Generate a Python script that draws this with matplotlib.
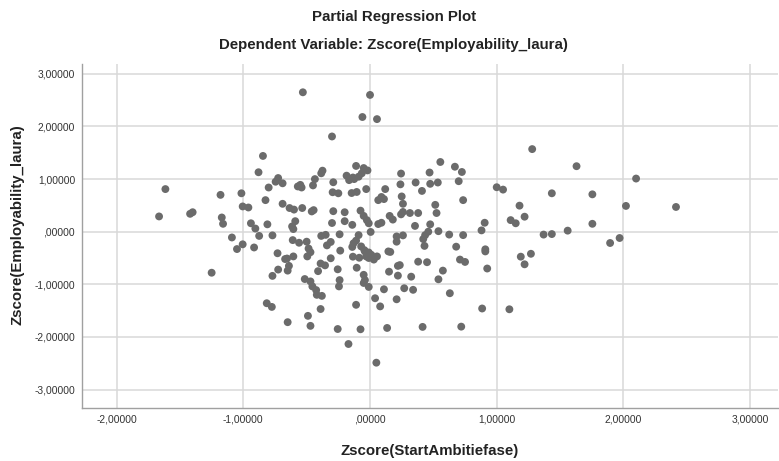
import matplotlib
matplotlib.use("Agg")
import matplotlib.pyplot as plt
from matplotlib.ticker import FuncFormatter

title = "Partial Regression Plot"
subtitle = "Dependent Variable: Zscore(Employability_laura)"
x_label = "Zscore(StartAmbitiefase)"
y_label = "Zscore(Employability_laura)"
x_ticks = [-2, -1, 0, 1, 2, 3]
y_ticks = [-3, -2, -1, 0, 1, 2, 3]

x_vals = [
    -1.665, -1.615, -1.42, -1.40, -1.25, -1.18, -1.17, -1.16, -1.09, -1.05,
    -1.015, -1.005, -0.96, -1.005, -0.94, -0.905, -0.875, -0.915, -0.845, -0.88,
    -0.80, -0.825, -0.81, -0.815, -0.775, -0.77, -0.725, -0.745, -0.69, -0.69,
    -0.73, -0.725, -0.77, -0.67, -0.655, -0.635, -0.60, -0.615, -0.605, -0.59,
    -0.605, -0.64, -0.65, -0.65, -0.61, -0.57, -0.55, -0.54, -0.56,
    -0.53, -0.535, -0.50, -0.485, -0.47, -0.495, -0.515, -0.47, -0.455, -0.425,
    -0.42, -0.38, -0.49, -0.47, -0.39, -0.435, -0.45, -0.445, -0.46, -0.375,
    -0.385, -0.385, -0.35, -0.34, -0.31, -0.39, -0.355, -0.41, -0.31,
    -0.30, -0.29, -0.295, -0.25, -0.29, -0.20, -0.30, -0.20, -0.14, -0.24,
    -0.235, -0.255, -0.24, -0.245, -0.255, -0.17, -0.11, -0.11, -0.185, -0.165,
    -0.125, -0.09, -0.135, -0.145, -0.105, -0.13, -0.11, -0.09, -0.14,
    -0.135, -0.085, -0.105, -0.06, -0.075, -0.07, -0.045,
    -0.05, -0.02, -0.065, -0.03, 0.00, 0.055, -0.05, -0.025, -0.01, 0.005,
    -0.04, -0.01, 0.01, -0.03, 0.03, 0.055, -0.01,
    -0.05, -0.04, -0.05, -0.01, -0.075, 0.05, 0.04, 0.08, 0.065, 0.09, 0.11,
    0.12, 0.065, 0.09, 0.11, 0.145, 0.16, 0.15, 0.135,
    0.155, 0.18, 0.21, 0.26, 0.21, 0.245, 0.24, 0.25, 0.26, 0.245,
    0.26, 0.315, 0.38, 0.355, 0.235, 0.22, 0.22, 0.21, 0.27, 0.34,
    0.325, 0.36, 0.38,
    0.41, 0.47, 0.475, 0.535, 0.555, 0.515, 0.525, 0.475, 0.46, 0.435,
    0.42, 0.54, 0.43, 0.45, 0.415, 0.575, 0.54, 0.625, 0.63, 0.67, 0.68, 0.70,
    0.725, 0.735, 0.735, 0.71, 0.75, 0.72, 0.88, 0.905, 0.91, 0.91,
    0.925, 0.885, 1.00, 1.05, 1.10, 1.11, 1.15, 1.18,
    1.22, 1.19, 1.22, 1.27, 1.28, 1.37, 1.435, 1.435, 1.56, 1.63,
    1.755, 1.755, 1.895, 1.97, 2.02, 2.10, 2.415,
]

y_vals = [
    0.29, 0.81, 0.34, 0.37, -0.78, 0.70, 0.27, 0.15, -0.11, -0.33,
    0.73, 0.48, 0.46, -0.24, 0.16, 0.06, -0.08, -0.30, 1.44, 1.13,
    0.84, 0.60, 0.14, -1.36, -1.43, -0.07, 1.02, 0.95, 0.92, 0.53,
    -0.41, -0.72, -0.84, -0.52, -0.51, 0.45, 0.42, 0.10, 0.05, 0.20,
    -0.47, -0.65, -0.74, -1.72, -0.16, 0.86, 0.89, 0.84, -0.21,
    2.65, 0.45, -0.19, -0.32, -0.39, -0.47, -0.90, -0.945, -1.04, -1.11,
    -1.20, -1.22, -1.60, -1.79, -1.47, 1.00, 0.88, 0.41, 0.385, 1.16,
    1.11, -0.08, -0.06, -0.26, -0.195, -0.605, -0.64, -0.75, -0.505,
    1.81, 0.94, 0.75, 0.73, 0.39, 0.37, 0.165, 0.20, 0.13, -0.05,
    -0.36, -0.715, -0.92, -1.04, -1.85, -2.135, -1.39, 1.25, 1.065, 0.98,
    1.00, 1.045, 1.03, 0.735, 0.755, -0.22, -0.17, -0.065, -0.29,
    -0.475, -0.495, -0.685, 2.18, 0.40, -0.28, -0.35,
    1.21, 1.165, 1.11, 0.81, 2.60, 2.14, 0.30, 0.22, 0.16, -0.005,
    -0.375, -0.395, -0.44, -0.47, -0.53, -0.47, -0.50,
    -0.82, -0.92, -0.975, -1.05, -1.855, -2.49, -1.265, -1.42, 0.60, 0.66, 0.62,
    0.81, 0.145, 0.17, -1.095, -0.375, -0.385, -0.76, -1.83,
    0.30, 0.23, -0.09, -0.07, -0.19, 1.105, 0.90, 0.67, 0.53, 0.33,
    0.375, 0.355, 0.355, 0.11, -0.635, -0.65, -0.835, -1.285, -1.075, -1.105,
    -0.855, 0.935, -0.57,
    0.775, 1.125, 0.91, 0.935, 1.325, 0.51, 0.355, 0.14, 0.00, -0.065,
    -0.14, 0.01, -0.27, -0.58, -1.81, -0.74, -0.905, -0.055, -1.17, 1.235, -0.285, 0.96,
    1.135, 0.60, -0.065, -0.53, -0.575, -1.805, 0.025, 0.17, -0.335, -0.375,
    -0.70, -1.46, 0.845, 0.80, -1.475, 0.22, 0.16, 0.495,
    0.285, -0.475, -0.62, -0.42, 1.57, -0.055, -0.045, 0.73, 0.02, 1.245,
    0.71, 0.15, -0.215, -0.12, 0.49, 1.01, 0.47,
]

plt.rcParams['font.family'] = ['Liberation Sans', 'DejaVu Sans']

fig = plt.figure(figsize=(7.79, 4.61), dpi=100)
ax = fig.add_axes([0.1053, 0.1156, 0.8934, 0.7456])

ax.scatter(x_vals, y_vals, s=32, color='#6b6b6b', edgecolors='none', zorder=3)

ax.set_xlim(-2.273, 3.22)
ax.set_ylim(-3.346, 3.188)
ax.set_xticks(x_ticks)
ax.set_yticks(y_ticks)

def fmt(v, pos=None):
    s = f"{v:.5f}".replace('.', ',')
    if s.startswith('0,'):
        s = s[1:]
    if s.startswith('-0,'):
        s = s[2:]
    return s

ax.xaxis.set_major_formatter(FuncFormatter(fmt))
ax.yaxis.set_major_formatter(FuncFormatter(fmt))
ax.tick_params(axis='both', length=0, labelsize=7.4, labelcolor='#333333')
ax.tick_params(axis='x', pad=5)
ax.tick_params(axis='y', pad=5)

ax.grid(True, color='#d9d9d9', linewidth=1.1, zorder=0)
ax.set_axisbelow(True)
for side in ['top', 'right']:
    ax.spines[side].set_visible(False)
for side in ['left', 'bottom']:
    ax.spines[side].set_color('#a0a0a0')
    ax.spines[side].set_linewidth(1.0)

ax.set_xlabel(x_label, fontsize=10.8, fontweight='bold', color='#222222', labelpad=14)
fig.text(0.022, 0.512, y_label, rotation=90, fontsize=10.8, fontweight='bold',
         color='#222222', ha='center', va='center')

fig.text(0.506, 1 - 17 / 461, title, fontsize=10.8, fontweight='bold',
         color='#222222', ha='center', va='center')
fig.text(0.505, 1 - 45 / 461, subtitle, fontsize=10.8, fontweight='bold',
         color='#222222', ha='center', va='center')

fig.savefig("out.png", dpi=100)
